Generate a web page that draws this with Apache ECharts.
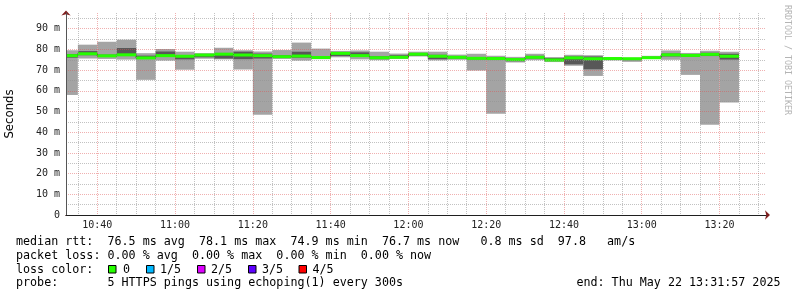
<!DOCTYPE html>
<html><head><meta charset="utf-8">
<script src="https://cdn.jsdelivr.net/npm/echarts@6/dist/echarts.min.js"></script>
<style>html,body{margin:0;padding:0;background:#fff}#c{width:797px;height:297px}</style>
</head><body><div id="c"></div>
<script>
// ---- data (5 pings per 5-minute step; values in ms) ----
const timeStart = "10:31:57";
const timeEnd = "13:31:57";
const stepMinutes = 5;
const intervalEnds = ["10:35","10:40","10:45","10:50","10:55","11:00","11:05","11:10","11:15","11:20",
  "11:25","11:30","11:35","11:40","11:45","11:50","11:55","12:00","12:05","12:10",
  "12:15","12:20","12:25","12:30","12:35","12:40","12:45","12:50","12:55","13:00",
  "13:05","13:10","13:15","13:20","13:25"];
const pingMin  = [58.0,75.6,75.4,75.1,65.3,74.6,70.2,75.5,75.2,70.3,48.4,75.4,74.6,75.3,76.2,75.2,74.8,75.4,76.6,74.7,75.0,69.8,48.9,73.7,74.8,73.9,72.1,67.2,74.7,74.0,75.4,75.0,67.7,43.6,54.3];
const pingLow  = [76.0,77.2,76.5,76.8,75.5,76.5,75.2,76.2,75.6,75.3,75.6,76.0,76.0,75.7,76.8,76.5,75.5,75.8,77.0,75.3,75.6,75.2,75.2,74.3,75.6,74.4,72.8,70.4,75.1,74.8,75.7,76.6,76.5,76.8,75.1];
const pingMedian = [77.0,77.9,76.9,77.4,75.9,77.0,76.7,77.3,77.7,77.3,77.0,76.5,76.8,76.1,78.1,77.0,76.0,76.2,77.7,76.7,76.2,75.7,75.6,75.1,76.2,74.9,75.9,75.5,75.6,75.5,76.0,77.4,77.1,77.6,76.7];
const pingHigh = [77.8,79.2,77.5,80.7,77.0,79.0,77.3,77.7,78.3,78.9,78.0,77.2,78.9,76.8,78.6,78.6,76.7,77.2,78.2,77.4,76.8,76.3,76.3,75.6,76.9,75.8,76.6,76.6,75.9,75.8,76.4,78.0,77.6,78.4,77.9];
const pingMax  = [79.6,82.3,83.7,84.7,78.2,80.2,78.9,78.2,80.8,79.6,79.0,79.7,83.3,80.4,79.3,79.5,78.9,78.0,78.9,78.9,77.5,77.9,76.9,76.4,77.9,76.3,77.4,77.2,76.1,76.0,76.9,79.5,78.3,79.4,78.9];
const xTickLabels = ["10:40","11:00","11:20","11:40","12:00","12:20","12:40","13:00","13:20"];
const yTickValues = [0,10,20,30,40,50,60,70,80,90];
const yMinorValues = [5,15,25,35,45,55,65,75,85,95];
const yMax = 97.6;
const lossLabels = ["0","1/5","2/5","3/5","4/5"];
const lossColors = ["#26ff00","#00b8ff","#dd00ff","#5e00ff","#ff0000"];
const statLines = [
  "median rtt:  76.5 ms avg  78.1 ms max  74.9 ms min  76.7 ms now   0.8 ms sd  97.8   am/s",
  "packet loss: 0.00 % avg  0.00 % max  0.00 % min  0.00 % now",
  "loss color:",
  "probe:       5 HTTPS pings using echoping(1) every 300s"
];
const endText = "end: Thu May 22 13:31:57 2025";
const creditText = "RRDTOOL / TOBI OETIKER";

// ---- helpers ----
const toMin = s => { const p = s.split(':').map(Number); return p[0]*60 + p[1] + (p[2]||0)/60; };
const pad = n => (n < 10 ? '0' : '') + n;
const fmtTime = v => pad(Math.floor(Math.round(v)/60)) + ':' + pad(Math.round(v)%60);
const xMin = toMin(timeStart), xMax = toMin(timeEnd);
const majorX = xTickLabels.map(toMin);
const minorX = [];
for (let t = Math.ceil(xMin/stepMinutes)*stepMinutes; t <= xMax; t += stepMinutes) {
  if (majorX.indexOf(t) < 0) minorX.push(t);
}
const data = intervalEnds.map((t,i) => [toMin(t), pingMin[i], pingLow[i], pingMedian[i], pingHigh[i], pingMax[i]]);

function band(api, lo, hi) {
  const t1 = api.value(0), t0 = Math.max(t1 - stepMinutes, xMin);
  const a = api.coord([t0, lo]), b = api.coord([t1, hi]);
  return {x: a[0], y: b[1], width: b[0]-a[0], height: a[1]-b[1]};
}
const mono = '"DejaVu Sans Mono", "Liberation Mono", monospace';

const chart = echarts.init(document.getElementById('c'), null, {renderer: 'canvas'});
const gridCol = 'rgba(143,143,143,0.55)';
const mgridCol = 'rgba(222,79,79,0.45)';

const graphics = [];
statLines.forEach((s,i) => {
  graphics.push({type:'text', x:16, y:241.7 + i*13.9, silent:true,
    style:{text:s, font:'11.7px ' + mono, fill:'#000', align:'left', verticalAlign:'middle', textAlign:'left', textVerticalAlign:'middle'}});
});
graphics.push({type:'text', x:780.5, y:241.7 + 3*13.9, silent:true,
  style:{text:endText, font:'11.7px ' + mono, fill:'#000', align:'right', verticalAlign:'middle', textAlign:'right', textVerticalAlign:'middle'}});
const boxX = [108, 146, 197, 248, 298.5];
const labX = [123, 160, 211, 262, 312.5];
lossLabels.forEach((l,i) => {
  graphics.push({type:'rect', silent:true, shape:{x:boxX[i]+0.5, y:265.5, width:7.5, height:7.5},
    style:{fill:lossColors[i], stroke:'#000', lineWidth:1}});
  graphics.push({type:'text', x:labX[i], y:241.7 + 2*13.9, silent:true,
    style:{text:l, font:'11.7px ' + mono, fill:'#000', align:'left', verticalAlign:'middle', textAlign:'left', textVerticalAlign:'middle'}});
});
graphics.push({type:'text', x:787.5, y:5, rotation:-Math.PI/2, silent:true,
  style:{text:creditText, font:'8.3px ' + mono, fill:'#b4b4b4', align:'left', verticalAlign:'middle', textAlign:'left', textVerticalAlign:'middle'}});

const option = {
  animation: false,
  backgroundColor: '#ffffff',
  grid: {left: 66, right: 31, top: 13, bottom: 82, containLabel: false, outerBoundsMode: 'none'},
  xAxis: [
    {type:'value', min:xMin, max:xMax, position:'bottom', z:5,
     axisLine:{show:true, onZero:false, symbol:['none','arrow'], symbolSize:[7,5], symbolOffset:[0,4],
       lineStyle:{color:'#801f1f', width:1}},
     axisTick:{show:false, customValues:minorX},
     axisLabel:{show:false},
     splitLine:{show:true, lineStyle:{color:gridCol, type:[1,1], width:1}}},
    {type:'value', min:xMin, max:xMax, position:'bottom', z:6,
     axisLine:{show:true, onZero:false, lineStyle:{color:'#1f1f1f', width:1}},
     axisTick:{show:false, customValues:majorX},
     axisLabel:{show:true, customValues:majorX, formatter:fmtTime, margin:5,
       fontFamily:'DejaVu Sans Mono', fontSize:10, color:'#222'},
     splitLine:{show:true, lineStyle:{color:mgridCol, type:[1,1], width:1}}}
  ],
  yAxis: [
    {type:'value', min:0, max:yMax, position:'left', z:5,
     axisLine:{show:true, onZero:false, symbol:['none','arrow'], symbolSize:[7,5], symbolOffset:[0,2.5],
       lineStyle:{color:'#801f1f', width:1}},
     axisTick:{show:false, customValues:yMinorValues},
     axisLabel:{show:false},
     splitLine:{show:true, lineStyle:{color:gridCol, type:[1,1], width:1}}},
    {type:'value', min:0, max:yMax, position:'left', z:6,
     name:'Seconds', nameLocation:'middle', nameGap:50,
     nameTextStyle:{fontFamily:'DejaVu Sans', fontSize:11.7, color:'#000'},
     axisLine:{show:true, onZero:false, lineStyle:{color:'#555', width:1}},
     axisTick:{show:false, customValues:yTickValues.slice(1)},
     axisLabel:{show:true, customValues:yTickValues, margin:6,
       formatter: v => v === 0 ? '0' : v + ' m',
       fontFamily:'DejaVu Sans Mono', fontSize:10, color:'#222'},
     splitLine:{show:true, lineStyle:{color:mgridCol, type:[1,1], width:1}}}
  ],
  series: [
    {type:'custom', name:'smoke outer', xAxisIndex:1, yAxisIndex:1, z:1, silent:true, data:data,
     renderItem:(p, api) => ({type:'rect', shape:band(api, api.value(1), api.value(5)), style:{fill:'#a4a4a4'}})},
    {type:'custom', name:'smoke inner', xAxisIndex:1, yAxisIndex:1, z:1, silent:true, data:data,
     renderItem:(p, api) => ({type:'rect', shape:band(api, api.value(2), api.value(4)), style:{fill:'#585858'}})},
    {type:'custom', name:'median line', xAxisIndex:1, yAxisIndex:1, z:1, silent:true, data:data,
     renderItem:(p, api) => {
       const t1 = api.value(0), t0 = Math.max(t1 - stepMinutes, xMin), m = api.value(3);
       const a = api.coord([t0, m]), b = api.coord([t1, m]);
       const pts = [];
       if (p.dataIndexInside > 0) {
         const prev = api.value(3, p.dataIndexInside - 1);
         pts.push(api.coord([t0, prev]));
       }
       pts.push(a, b);
       return {type:'polyline', shape:{points:pts}, style:{stroke:'#202020', lineWidth:1, fill:null}};
     }},
    {type:'custom', name:'median', xAxisIndex:1, yAxisIndex:1, z:1, silent:true, data:data,
     renderItem:(p, api) => {
       const r = band(api, api.value(3), api.value(3));
       return {type:'rect', shape:{x:r.x, y:r.y - 1.5, width:r.width, height:3}, style:{fill:lossColors[0]}};
     }}
  ],
  graphic: graphics
};
chart.setOption(option);
</script></body></html>
